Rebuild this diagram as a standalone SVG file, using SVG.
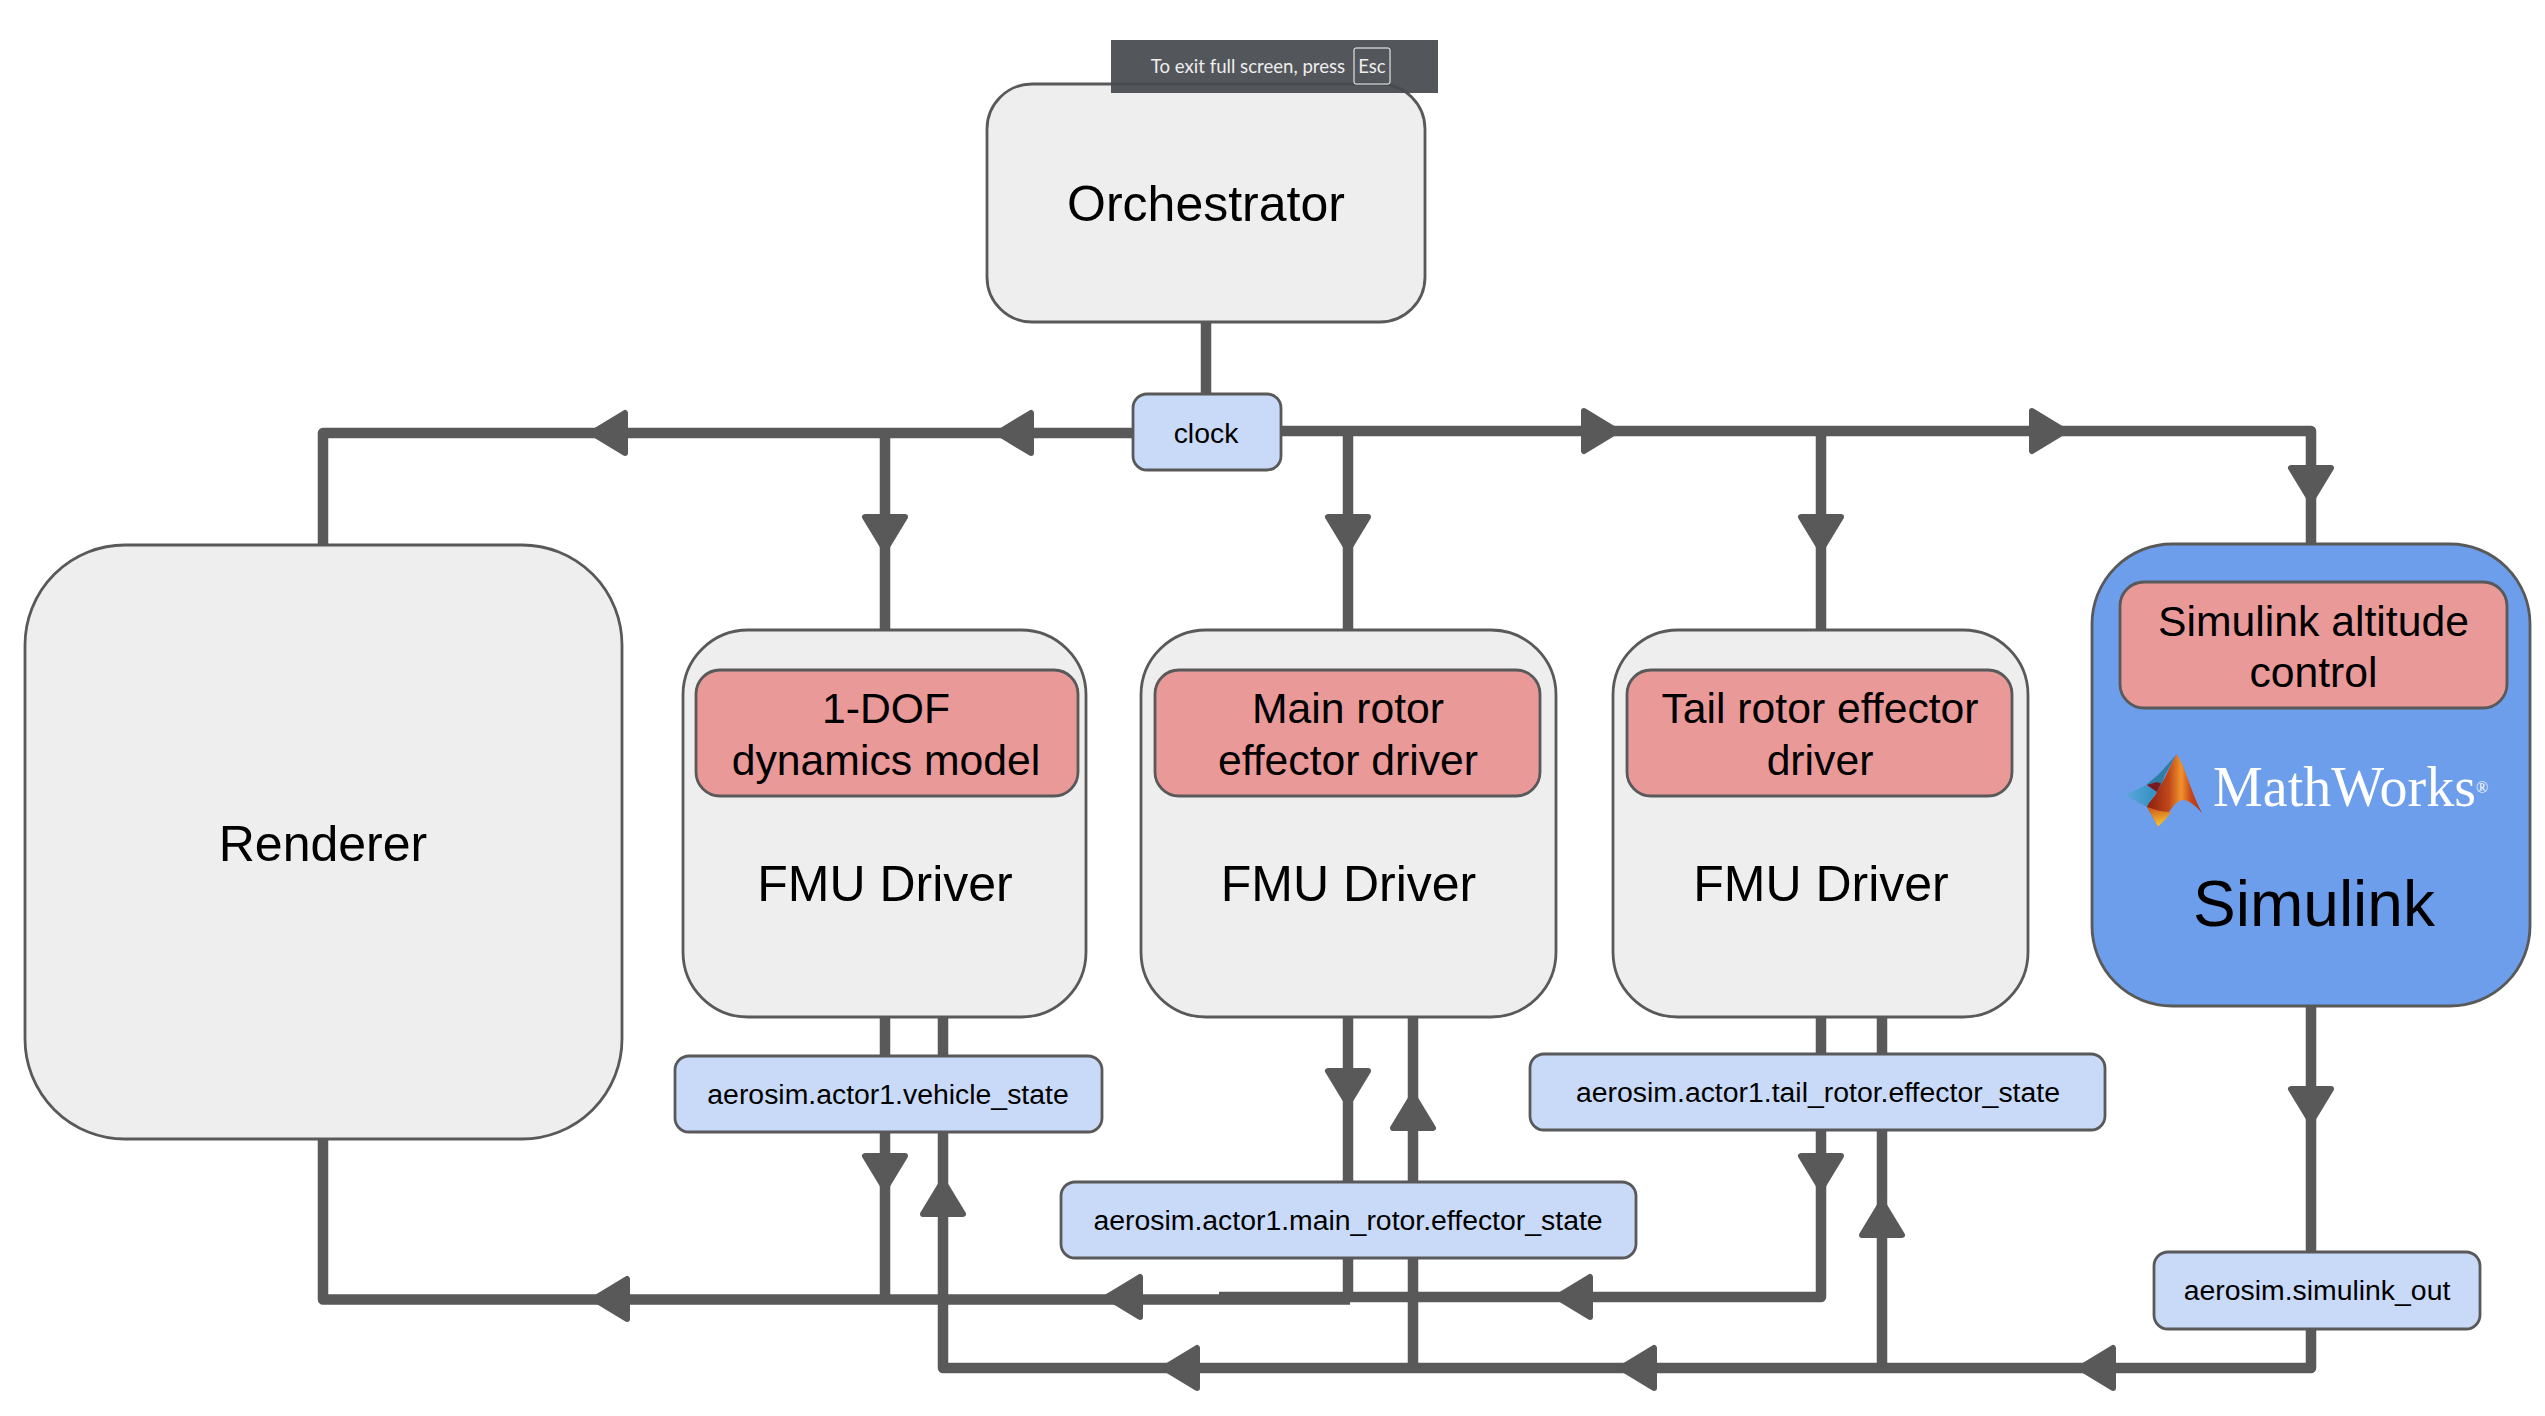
<svg xmlns="http://www.w3.org/2000/svg" width="2545" height="1416" viewBox="0 0 2545 1416">
<style>
text{font-family:"Liberation Sans",Arial,sans-serif;fill:#000;text-anchor:middle}
.grey{fill:#eee;stroke:#595959;stroke-width:2.800}
.red{fill:#ea9999;stroke:#595959;stroke-width:2.800}
.blue{fill:#c9daf8;stroke:#595959;stroke-width:2.800}
.big{font-size:42.7px}
.large{font-size:50px}
.small{font-size:28.4px}
.toast{font-family:"Lato","Noto Sans",sans-serif;font-size:18.600px;fill:#eee}
.wire{fill:none;stroke:#595959;stroke-width:10.500;stroke-linejoin:round}
.ah{fill:#595959;stroke:#595959;stroke-width:6;stroke-linejoin:round}
</style>
<defs>
<path id="ah" class="ah" d="M-20,3 L20,3 L0,36 Z"/>
<linearGradient id="peak" x1="0" y1="0" x2="1" y2="0"><stop offset="0" stop-color="#8a1f0f"/><stop offset="0.4" stop-color="#c0481c"/><stop offset="0.62" stop-color="#f0922a"/><stop offset="0.8" stop-color="#c8461a"/><stop offset="1" stop-color="#a8321c"/></linearGradient>
<linearGradient id="yel" x1="0" y1="0" x2="0.3" y2="1"><stop offset="0" stop-color="#c8501e"/><stop offset="1" stop-color="#f7c02e"/></linearGradient>
<linearGradient id="sw" x1="0" y1="0" x2="1" y2="0"><stop offset="0" stop-color="#5fa8dc"/><stop offset="1" stop-color="#2f90c0"/></linearGradient>
</defs>
<g id="connectors">
<path class="wire" d="M1206,322 V394"/>
<path class="wire" d="M1132,433 H323 V545"/>
<path class="wire" d="M885,433 V630"/>
<path class="wire" d="M1281,431 H2311 V544"/>
<path class="wire" d="M1348,431 V630"/>
<path class="wire" d="M1821,431 V630"/>
<path class="wire" d="M323,1139 V1299.500 H1350"/>
<path class="wire" d="M885,1017 V1299"/>
<path class="wire" d="M1348,1017 V1299"/>
<path class="wire" d="M1219,1297 H1821 V1017"/>
<path class="wire" d="M943,1017 V1368 H2311 V1006"/>
<path class="wire" d="M1413,1017 V1368"/>
<path class="wire" d="M1882,1017 V1368"/>
<use href="#ah" transform="translate(628,433) rotate(90)"/>
<use href="#ah" transform="translate(1034,433) rotate(90)"/>
<use href="#ah" transform="translate(1581,431) rotate(-90)"/>
<use href="#ah" transform="translate(2029,431) rotate(-90)"/>
<use href="#ah" transform="translate(885,514)"/>
<use href="#ah" transform="translate(1348,514)"/>
<use href="#ah" transform="translate(1821,514)"/>
<use href="#ah" transform="translate(2311,465)"/>
<use href="#ah" transform="translate(885,1153)"/>
<use href="#ah" transform="translate(943,1217) rotate(180)"/>
<use href="#ah" transform="translate(1348,1068)"/>
<use href="#ah" transform="translate(1413,1131) rotate(180)"/>
<use href="#ah" transform="translate(1821,1153)"/>
<use href="#ah" transform="translate(1882,1238) rotate(180)"/>
<use href="#ah" transform="translate(2311,1086)"/>
<use href="#ah" transform="translate(630,1299) rotate(90)"/>
<use href="#ah" transform="translate(1143,1297) rotate(90)"/>
<use href="#ah" transform="translate(1593,1297) rotate(90)"/>
<use href="#ah" transform="translate(1200,1368) rotate(90)"/>
<use href="#ah" transform="translate(1657,1368) rotate(90)"/>
<use href="#ah" transform="translate(2116,1368) rotate(90)"/>
</g>
<g id="orchestrator"><rect class="grey" x="987" y="84" width="438" height="238" rx="45"/><text class="large" x="1206" y="221">Orchestrator</text></g>
<g id="clock"><rect class="blue" x="1133" y="394" width="148" height="76" rx="14"/><text class="small" x="1206" y="443">clock</text></g>
<g id="renderer"><rect class="grey" x="25" y="545" width="597" height="594" rx="100"/><text class="large" x="323" y="861">Renderer</text></g>
<g id="fmu1"><rect class="grey" x="683" y="630" width="403" height="387" rx="65"/><rect class="red" x="696" y="670" width="382" height="126" rx="24"/><text class="big" x="886" y="723">1-DOF</text><text class="big" x="886" y="775">dynamics model</text><text class="large" x="885" y="901">FMU Driver</text></g>
<g id="fmu2"><rect class="grey" x="1141" y="630" width="415" height="387" rx="65"/><rect class="red" x="1155" y="670" width="385" height="126" rx="24"/><text class="big" x="1348" y="723">Main rotor</text><text class="big" x="1348" y="775">effector driver</text><text class="large" x="1348.500" y="901">FMU Driver</text></g>
<g id="fmu3"><rect class="grey" x="1613" y="630" width="415" height="387" rx="65"/><rect class="red" x="1627" y="670" width="385" height="126" rx="24"/><text class="big" x="1820" y="723">Tail rotor effector</text><text class="big" x="1820" y="775">driver</text><text class="large" x="1821" y="901">FMU Driver</text></g>
<g id="simulink"><rect x="2092" y="544" width="438" height="462" rx="80" fill="#6d9eeb" stroke="#595959" stroke-width="2.800"/><rect class="red" x="2120" y="582" width="387" height="126" rx="24"/><text class="big" x="2313.500" y="636">Simulink altitude</text><text class="big" x="2313.500" y="687">control</text>
<path d="M2124.300,795 L2146.700,785 L2156.700,791.700 L2146.700,806.700 Z" fill="url(#sw)"/>
<path d="M2146.700,784.300 L2158,775 L2176.700,754.300 L2165,775 L2160,788 L2156.700,791.700 Z" fill="#2f7ea8"/>
<path d="M2146.700,785 L2157,782 L2161,783.500 L2156.700,791.700 Z" fill="#7a1a20"/>
<path d="M2176.700,754.300 C2186,768 2190,790 2202,813 C2195,805 2190,801 2183,800 C2175,800 2168,815 2158,826.700 C2154,818 2150,812 2147,806.700 C2150,800 2156,796 2156.700,791.700 C2165,780 2170,765 2176.700,754.300 Z" fill="url(#peak)"/>
<path d="M2147,806.700 L2158,826.700 C2163,822 2168,817 2171,812 C2163,812 2155,810 2147,806.700 Z" fill="url(#yel)"/>
<text x="2213" y="806" font-size="56" style="font-family:'Liberation Serif',serif;fill:#fff;text-anchor:start">MathWorks<tspan font-size="16" dy="-13">®</tspan></text>
<text x="2314" y="926" style="font-size:64px">Simulink</text></g>
<g id="vehicle-state"><rect class="blue" x="675" y="1056" width="427" height="76" rx="14"/><text class="small" x="888" y="1104">aerosim.actor1.vehicle_state</text></g>
<g id="main-rotor-state"><rect class="blue" x="1061" y="1182" width="575" height="76" rx="14"/><text class="small" x="1348" y="1230">aerosim.actor1.main_rotor.effector_state</text></g>
<g id="tail-rotor-state"><rect class="blue" x="1530" y="1054" width="575" height="76" rx="14"/><text class="small" x="1818" y="1102">aerosim.actor1.tail_rotor.effector_state</text></g>
<g id="simulink-out"><rect class="blue" x="2154" y="1252" width="326" height="77" rx="14"/><text class="small" x="2317" y="1300">aerosim.simulink_out</text></g>
<g id="fullscreen-toast"><rect x="1111" y="40" width="327" height="53" fill="#46494d" fill-opacity="0.93"/><text class="toast" x="1248" y="73">To exit full screen, press</text><rect x="1354" y="48" width="36" height="36" rx="2" fill="none" stroke="#fff" stroke-width="1"/><text class="toast" x="1372" y="73">Esc</text></g>
</svg>
